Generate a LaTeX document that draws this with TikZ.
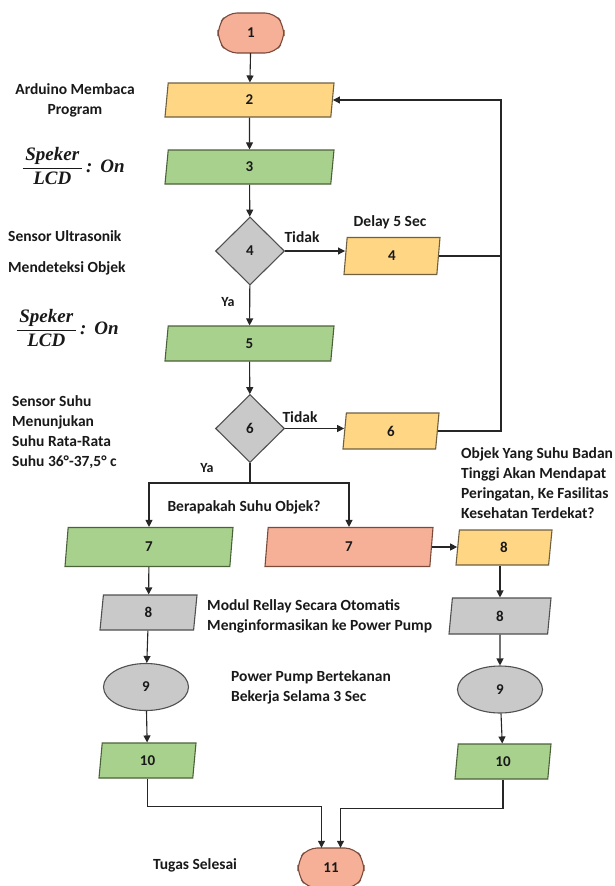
\documentclass[tikz,border=0pt]{standalone}
\usepackage{amsmath}
\usepackage{fontspec}
\setmainfont{Carlito}
\newfontfamily\fracfont{Liberation Serif}
\usetikzlibrary{shapes.geometric,arrows.meta,calc}

\definecolor{salmonfill}{HTML}{F5B097}
\definecolor{salmonline}{HTML}{7A4A3A}
\definecolor{yellowfill}{HTML}{FFD683}
\definecolor{yellowline}{HTML}{6E6040}
\definecolor{greenfill}{HTML}{A9D18E}
\definecolor{greenline}{HTML}{4A6238}
\definecolor{grayfill}{HTML}{C9C9C9}
\definecolor{grayline}{HTML}{505050}

\tikzset{
  every node/.style={font=\fontsize{15.5}{20}\selectfont\bfseries, text=black!90},
  numtext/.style={font=\fontsize{15}{16}\selectfont\bfseries},
  para/.style={trapezium, trapezium left angle=72, trapezium right angle=108,
    trapezium stretches body, inner sep=0pt, line width=1.1pt, draw, numtext},
  yellowbox/.style={para, fill=yellowfill, draw=yellowline},
  greenbox/.style={para, fill=greenfill, draw=greenline},
  graybox/.style={para, fill=grayfill, draw=grayline},
  salmonbox/.style={para, fill=salmonfill, draw=salmonline},
  decision/.style={diamond, aspect=1, inner sep=0pt, minimum width=69pt,
    minimum height=68pt, draw=grayline, fill=grayfill, line width=1.1pt, numtext},
  oval/.style={ellipse, inner sep=0pt, minimum width=85pt, minimum height=47pt,
    draw=grayline, fill=grayfill, line width=1.1pt, numtext},
  termtext/.style={inner sep=0pt, minimum width=66pt, minimum height=40pt, numtext},
  flow/.style={line width=1.1pt, draw=black!85},
  arrow/.style={flow, -{Triangle[length=7pt,width=7pt]}},
  note/.style={align=left, inner sep=0pt},
  mathnote/.style={font=\fontsize{19}{22}\selectfont, inner sep=0pt},
  yalabel/.style={font=\fontsize{14}{16}\selectfont\bfseries},
}

% terminal symbol: flat top and bottom, bulging rounded sides
\newcommand{\terminalshape}[1]{%
  \draw[fill=salmonfill, draw=salmonline, line width=1.1pt, rounded corners=10pt]
    ($(#1)+(-24,-20)$) -- ($(#1)+(24,-20)$) -- ($(#1)+(33,-7)$) -- ($(#1)+(33,7)$)
    -- ($(#1)+(24,20)$) -- ($(#1)+(-24,20)$) -- ($(#1)+(-33,7)$) -- ($(#1)+(-33,-7)$) -- cycle;}
\newcommand{\bi}[1]{\text{\fracfont\bfseries\itshape #1}}
\newcommand{\spekerlcd}{$\displaystyle\frac{\,\bi{Speker}\,}{\bi{LCD}}\,\bi{:\ \,On}$}

\begin{document}
\begin{tikzpicture}[x=1pt, y=-1pt]
\useasboundingbox (0,0) rectangle (614,886);

% start and end terminals
\terminalshape{251,33}
\node[termtext] (n1) at (251,33) {1};
\terminalshape{331,868}
\node[termtext] (n11) at (331,868) {11};

% main column
\node[yellowbox, minimum width=169pt, minimum height=34pt] (n2) at (249.5,100) {2};
\node[greenbox, minimum width=169pt, minimum height=34pt] (n3) at (249.5,167) {3};
\node[decision] (d4) at (250,251) {4};
\node[yellowbox, minimum width=96pt, minimum height=37pt] (r4) at (392,256) {4};
\node[greenbox, minimum width=169pt, minimum height=35pt] (n5) at (249.5,343.5) {5};
\node[decision] (d6) at (250,428.5) {6};
\node[yellowbox, minimum width=96pt, minimum height=36pt] (r6) at (391,431) {6};

% left branch
\node[greenbox, minimum width=168pt, minimum height=39pt] (n7l) at (149,547) {7};
\node[graybox, minimum width=97pt, minimum height=35pt] (n8l) at (148.5,612.5) {8};
\node[oval] (n9l) at (146,687) {9};
\node[greenbox, minimum width=97pt, minimum height=35pt] (n10l) at (147.5,760.5) {10};

% right branch
\node[salmonbox, minimum width=168pt, minimum height=39pt] (n7r) at (349,547) {7};
\node[yellowbox, minimum width=96pt, minimum height=35pt] (n8y) at (504,547.5) {8};
\node[graybox, minimum width=102pt, minimum height=36pt] (n8r) at (500,616) {8};
\node[oval] (n9r) at (500,689.5) {9};
\node[greenbox, minimum width=96pt, minimum height=35pt] (n10r) at (503,761.5) {10};

% connectors
\coordinate (loop) at (501,0);
\coordinate (split) at (250,483);
\draw[arrow] (n1) -- (n2);
\draw[arrow] (n2) -- (n3);
\draw[arrow] (n3) -- (d4);
\draw[arrow] (d4.east) -- (d4.east -| r4.west);
\draw[arrow] (d4) -- (n5);
\draw[arrow] (n5) -- (d6);
\draw[arrow] (d6.east) -- (d6.east -| r6.west);
\draw[flow] (r4.east) -- (r4.east -| loop);
\draw[arrow] (r6.east) -- (r6.east -| loop) |- (n2.east);
\draw[flow] (d6.south) -- (split);
\draw[arrow] (split) -| (n7l.north);
\draw[arrow] (split) -| (n7r.north);
\draw[arrow] (n7r.east) -- (n7r.east -| n8y.west);
\draw[arrow] (n7l) -- (n8l);
\draw[arrow] (n8l) -- (n9l);
\draw[arrow] (n9l) -- (n10l);
\draw[arrow] (n8y.south -| n8r.north) -- (n8r.north);
\draw[arrow] (n8r) -- (n9r);
\draw[arrow] (n9r) -- (n10r);
\draw[arrow] (n10l.south) -- ++(0,28) -| ([xshift=-9.5pt]n11.north);
\draw[arrow] (n10r.south) -- ++(0,29) -| ([xshift=9.5pt]n11.north);

% labels
\node[align=center] (t2) at (75,100) {Arduino Membaca\\Program};
\node[mathnote] (t3) at (73,166) {\spekerlcd};
\node[anchor=west, inner sep=0pt] (t4a) at (8,236) {Sensor Ultrasonik};
\node[anchor=west, inner sep=0pt] (t4b) at (8,268) {Mendeteksi Objek};
\node (no4) at (302,237) {Tidak};
\node (dl4) at (390,222) {Delay 5 Sec};
\node[yalabel] (ya4) at (228,302) {Ya};
\node[mathnote] (t5) at (67,328) {\spekerlcd};
\node[note, anchor=west] (t6) at (12,432) {Sensor Suhu\\Menunjukan\\Suhu Rata-Rata\\Suhu 36°-37,5° c};
\node (no6) at (300,417) {Tidak};
\node[yalabel] (ya6) at (207,468) {Ya};
\node (tq) at (244,507) {Berapakah Suhu Objek?};
\node[note, anchor=west] (tw) at (461,483) {Objek Yang Suhu Badan\\Tinggi Akan Mendapat\\Peringatan, Ke Fasilitas\\Kesehatan Terdekat?};
\node[note, anchor=west] (t8) at (207,616) {Modul Rellay Secara Otomatis\\Menginformasikan ke Power Pump};
\node[note, anchor=west] (t9) at (231,687) {Power Pump Bertekanan\\Bekerja Selama 3 Sec};
\node (t11) at (195,865) {Tugas Selesai};
\end{tikzpicture}
\end{document}
